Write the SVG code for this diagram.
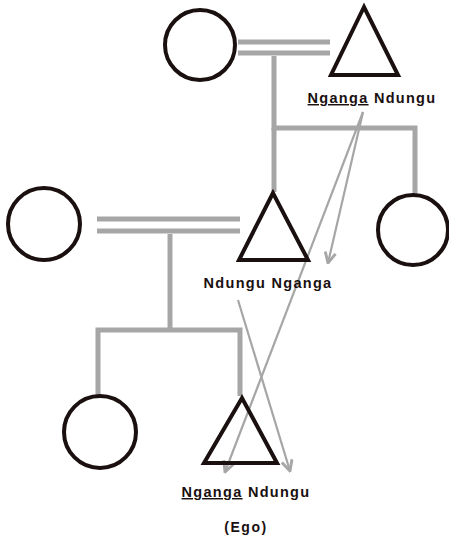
<svg xmlns="http://www.w3.org/2000/svg" width="449" height="537" viewBox="0 0 449 537">
<style>
.sym{fill:none;stroke:#1a1010;stroke-width:4}
.kin{fill:none;stroke:#a6a6a6;stroke-width:5}
.arr{fill:none;stroke:#a6a6a6;stroke-width:2.2;marker-end:url(#ah)}
.lbl{font-family:"Liberation Sans",Arial,sans-serif;font-weight:bold;font-size:14.5px;letter-spacing:1.3px;fill:#1a1010;text-anchor:middle}
</style>
<defs>
<marker id="ah" viewBox="0 0 10 10" refX="9" refY="5" markerWidth="6" markerHeight="6" orient="auto" markerUnits="strokeWidth">
<path d="M1,1 L9,5 L1,9" fill="none" stroke="#a6a6a6" stroke-width="2.2"/>
</marker>
</defs>
<rect width="449" height="537" fill="#ffffff"/>
<g id="connectors">
<line class="kin" x1="238" y1="42" x2="330" y2="42"/>
<line class="kin" x1="238" y1="53" x2="330" y2="53"/>
<polyline class="kin" points="274,56 274,128 415,128 415,194"/>
<line class="kin" x1="274" y1="128" x2="274" y2="192"/>
<line class="kin" x1="97" y1="219" x2="240" y2="219"/>
<line class="kin" x1="97" y1="231" x2="240" y2="231"/>
<line class="kin" x1="170" y1="234" x2="170" y2="330"/>
<polyline class="kin" points="98,397 98,330 240,330 240,396"/>
<line class="arr" x1="363" y1="112" x2="328" y2="263"/>
<line class="arr" x1="363" y1="112" x2="225" y2="472"/>
<line class="arr" x1="238" y1="300" x2="290" y2="471"/>
</g>
<g id="top-female"><circle class="sym" cx="200" cy="45" r="35"/></g>
<g id="top-male"><polygon class="sym" points="364,7 331,75 398,75"/>
<text class="lbl" x="372" y="103"><tspan text-decoration="underline">Nganga</tspan> Ndungu</text></g>
<g id="mid-female"><circle class="sym" cx="44" cy="224" r="36"/></g>
<g id="mid-male"><polygon class="sym" points="273,193 239,260 308,260"/>
<text class="lbl" x="268" y="288">Ndungu Nganga</text></g>
<g id="mid-sister"><circle class="sym" cx="413" cy="230" r="35"/></g>
<g id="bottom-female"><circle class="sym" cx="100" cy="432" r="36"/></g>
<g id="ego"><polygon class="sym" points="242,398 204,463 277,463"/>
<text class="lbl" x="246" y="497"><tspan text-decoration="underline">Nganga</tspan> Ndungu</text>
<text class="lbl" x="246" y="532" style="font-size:14px;letter-spacing:1.5px">(Ego)</text></g>
</svg>
